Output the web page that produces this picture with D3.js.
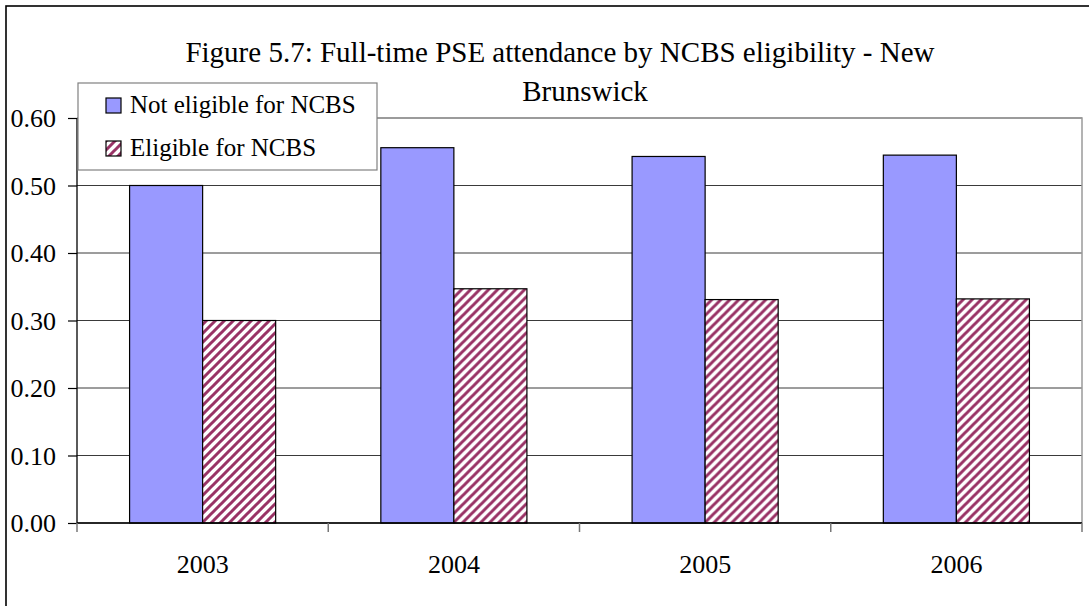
<!DOCTYPE html>
<html>
<head>
<meta charset="utf-8">
<script src="https://cdn.jsdelivr.net/npm/d3@7"></script>
<style>
  html, body { margin: 0; padding: 0; background: #fff; }
  svg { display: block; font-family: "Liberation Serif", "Times New Roman", serif; }
</style>
</head>
<body>
<svg id="chart" width="1089" height="606"></svg>
<script>
const years = ["2003", "2004", "2005", "2006"];
const seriesNames = ["Not eligible for NCBS", "Eligible for NCBS"];
const notEligible = [0.500, 0.556, 0.543, 0.545];
const eligible = [0.300, 0.347, 0.331, 0.332];
const yTicks = [0.0, 0.1, 0.2, 0.3, 0.4, 0.5, 0.6];
const titleLines = ["Figure 5.7: Full-time PSE attendance by NCBS eligibility - New", "Brunswick"];

const svg = d3.select("#chart");
const plot = { left: 77, right: 1082, top: 118, bottom: 523 };

// hatch pattern
const defs = svg.append("defs");
const P = 9;
const pat = defs.append("pattern")
  .attr("id", "hatch").attr("patternUnits", "userSpaceOnUse")
  .attr("width", P).attr("height", P);
pat.append("rect").attr("width", P).attr("height", P).attr("fill", "#fff");
pat.append("path")
  .attr("d", `M-2,2 L2,-2 M0,${P} L${P},0 M${P - 2},${P + 2} L${P + 2},${P - 2}`)
  .attr("stroke", "#993366").attr("stroke-width", 3);

// outer border
svg.append("rect").attr("x", 6).attr("y", 6).attr("width", 1200).attr("height", 700)
  .attr("fill", "#fff").attr("stroke", "#000").attr("stroke-width", 1.6);

const x0 = d3.scaleBand().domain(years).range([plot.left, plot.right]).padding(0);
const x1 = d3.scaleBand().domain(seriesNames).range([0, x0.bandwidth()])
  .paddingInner(0).paddingOuter(0.72);
const y = d3.scaleLinear().domain([0, 0.6]).range([plot.bottom, plot.top]);

// gridlines
svg.append("g").selectAll("line").data(yTicks).join("line")
  .attr("x1", plot.left).attr("x2", plot.right)
  .attr("y1", d => y(d)).attr("y2", d => y(d))
  .attr("stroke", "#3a3a3a").attr("stroke-width", 1);

// plot area border top/right
svg.append("path")
  .attr("d", `M${plot.left},${plot.top}H${plot.right}V${plot.bottom}`)
  .attr("fill", "none").attr("stroke", "#9a9a9a").attr("stroke-width", 1.5);

// bars
const rows = years.map((yr, i) => ({ year: yr, values: [notEligible[i], eligible[i]] }));
const fills = ["#9999FF", "url(#hatch)"];
const g = svg.append("g").selectAll("g").data(rows).join("g")
  .attr("transform", d => `translate(${x0(d.year)},0)`);
g.selectAll("rect").data(d => d.values.map((v, k) => ({ v, k }))).join("rect")
  .attr("x", d => x1(seriesNames[d.k]))
  .attr("width", x1.bandwidth())
  .attr("y", d => y(d.v))
  .attr("height", d => y(0) - y(d.v))
  .attr("fill", d => fills[d.k])
  .attr("stroke", "#000").attr("stroke-width", 1.2);

// y axis
const yAxis = d3.axisLeft(y).tickValues(yTicks).tickFormat(d3.format(".2f")).tickSize(9).tickPadding(12);
const ya = svg.append("g").attr("transform", `translate(${plot.left},0)`).call(yAxis);
ya.select(".domain").attr("stroke", "#000").attr("stroke-width", 1.3).attr("d", `M0,${plot.top}V${plot.bottom}`);
ya.selectAll(".tick line").attr("stroke", "#000").attr("stroke-width", 1.2);
ya.selectAll(".tick text").attr("font-family", "Liberation Serif").attr("font-size", 26).attr("fill", "#000").attr("dy", "0.34em");

// x axis
const xAxis = d3.axisBottom(x0).tickSize(0).tickPadding(32);
const xa = svg.append("g").attr("transform", `translate(0,${plot.bottom})`).call(xAxis);
xa.select(".domain").attr("stroke", "#000").attr("stroke-width", 1.3).attr("d", `M${plot.left},0H${plot.right}`);
xa.selectAll(".tick text").attr("font-family", "Liberation Serif").attr("font-size", 26).attr("fill", "#000");
// category boundary ticks
const bounds = years.map(d => x0(d)).concat([x0(years[years.length - 1]) + x0.bandwidth()]);
xa.append("g").selectAll("line").data(bounds).join("line")
  .attr("x1", d => d).attr("x2", d => d).attr("y1", 0).attr("y2", 9)
  .attr("stroke", "#777").attr("stroke-width", 1.5);

// title
svg.append("g").selectAll("text").data(titleLines).join("text")
  .attr("x", (d, i) => i === 0 ? 560 : 585)
  .attr("y", (d, i) => 62 + i * 39)
  .attr("text-anchor", "middle")
  .attr("font-size", 29).attr("fill", "#000")
  .text(d => d);

// legend
const lg = svg.append("g");
lg.append("rect").attr("x", 78).attr("y", 83).attr("width", 299).attr("height", 87)
  .attr("fill", "#fff").attr("stroke", "#808080").attr("stroke-width", 1.2);
const items = lg.selectAll("g").data(seriesNames).join("g")
  .attr("transform", (d, i) => `translate(106,${98 + i * 43})`);
items.append("rect").attr("width", 15).attr("height", 15)
  .attr("fill", (d, i) => fills[i]).attr("stroke", "#000").attr("stroke-width", 1.2);
items.append("text").attr("x", 24).attr("y", 15)
  .attr("font-size", 25).attr("fill", "#000").text(d => d);
</script>
</body>
</html>
